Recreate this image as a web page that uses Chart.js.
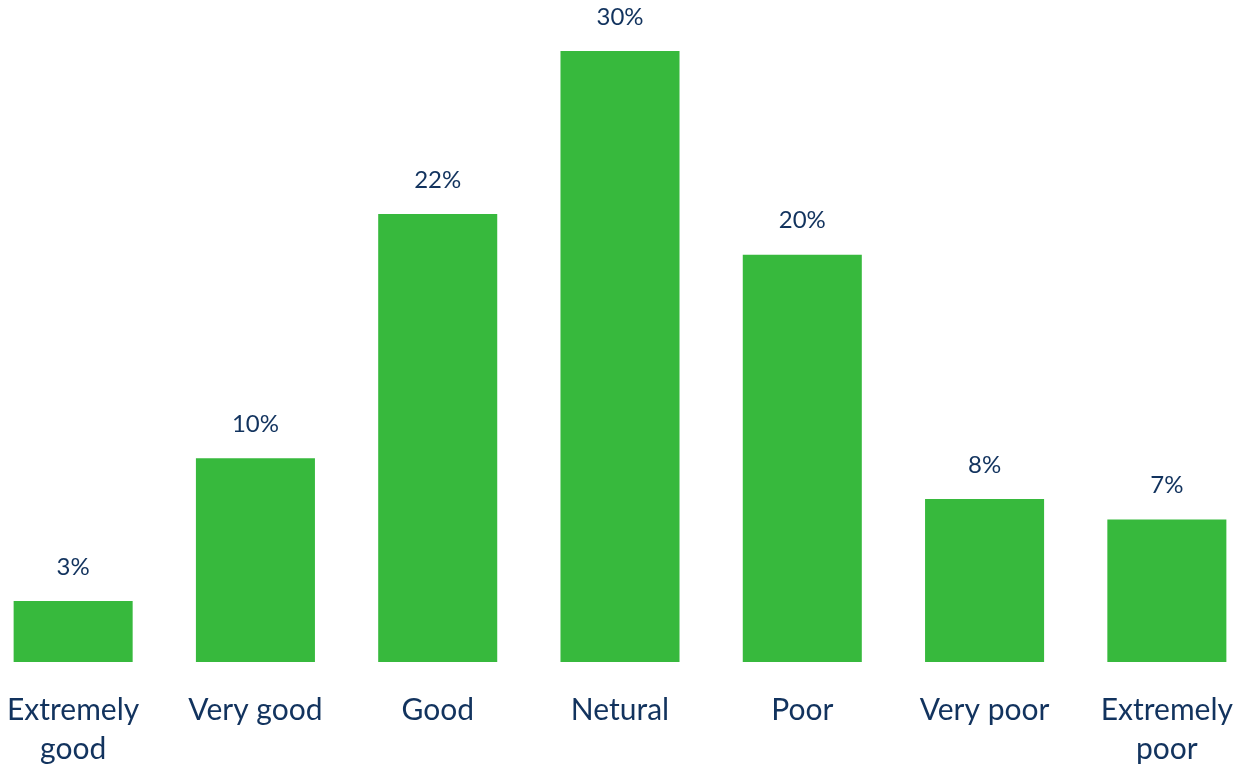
<!DOCTYPE html>
<html>
<head>
<meta charset="utf-8">
<script src="https://cdn.jsdelivr.net/npm/chart.js@4/dist/chart.umd.min.js"></script>
<style>
  html, body { margin: 0; padding: 0; background: #fff; overflow: hidden; }
  #chart { position: absolute; left: -18.4px; top: 0; }
</style>
</head>
<body>
<canvas id="chart" width="1276" height="769"></canvas>
<script>
// Données du graphique
const categories = [['Extremely', 'good'], 'Very good', 'Good', 'Netural', 'Poor', 'Very poor', ['Extremely', 'poor']];
const shares = [3, 10, 22, 30, 20, 8, 7];

const textColor = '#12335e';
const fontFamily = 'Lato, "Open Sans", sans-serif';

// Étiquettes de valeur au-dessus des barres
const valueLabels = {
    id: 'valueLabels',
    afterDatasetsDraw(chart) {
        const ctx = chart.ctx;
        const meta = chart.getDatasetMeta(0);
        ctx.save();
        ctx.fillStyle = textColor;
        ctx.font = '24px ' + fontFamily;
        ctx.textAlign = 'center';
        ctx.textBaseline = 'bottom';
        meta.data.forEach((bar, i) => {
            ctx.fillText(shares[i] + '%', bar.x, bar.y - 22);
        });
        ctx.restore();
    }
};

new Chart(document.getElementById('chart'), {
    type: 'bar',
    data: {
        labels: categories,
        datasets: [{
            data: shares,
            backgroundColor: '#37b93d',
            barPercentage: 0.653,
            categoryPercentage: 1
        }]
    },
    options: {
        responsive: false,
        animation: false,
        devicePixelRatio: 1,
        layout: { padding: { top: 51, left: 0, right: 0, bottom: 0 } },
        plugins: { legend: { display: false }, tooltip: { enabled: false } },
        scales: {
            x: {
                grid: { display: false, drawTicks: false },
                border: { display: false },
                ticks: {
                    color: textColor,
                    font: { family: fontFamily, size: 30, lineHeight: 1.3 },
                    padding: 29,
                    maxRotation: 0,
                    autoSkip: false
                },
                afterFit(scale) {
                    scale.height = 107;
                    scale.paddingLeft = 0;
                    scale.paddingRight = 0;
                }
            },
            y: {
                display: false,
                min: 0,
                max: 30
            }
        }
    },
    plugins: [valueLabels]
});
</script>
</body>
</html>
